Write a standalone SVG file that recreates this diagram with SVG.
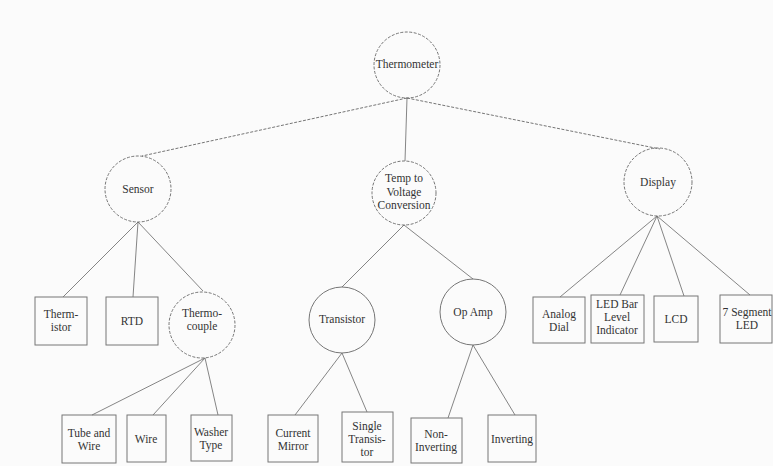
<svg xmlns="http://www.w3.org/2000/svg" width="773" height="466" viewBox="0 0 773 466">
<style>
.bg{fill:#fbfbfb}
.c{fill:none;stroke:#666;stroke-width:0.9}
.cd{fill:none;stroke:#666;stroke-width:0.9;stroke-dasharray:3 1.5}
.b{fill:none;stroke:#777;stroke-width:1}
.l{stroke:#777;stroke-width:0.9;fill:none}
.ld{stroke:#666;stroke-width:0.9;fill:none;stroke-dasharray:3 1.5}
.t{font-family:'Liberation Serif','DejaVu Serif',serif;font-size:11.5px;fill:#333;text-anchor:middle}
</style>
<rect class="bg" x="0" y="0" width="773" height="466"/>
<g id="connectors">
<line class="ld" x1="407" y1="98" x2="142" y2="156"/>
<line class="l" x1="407" y1="98" x2="405" y2="161"/>
<line class="ld" x1="407" y1="98" x2="660" y2="149"/>
<line class="l" x1="138" y1="222" x2="63" y2="297"/>
<line class="l" x1="138" y1="222" x2="133" y2="297"/>
<line class="l" x1="138" y1="222" x2="203" y2="291"/>
<line class="l" x1="404" y1="225" x2="342" y2="287"/>
<line class="l" x1="404" y1="225" x2="473" y2="279"/>
<line class="l" x1="657" y1="216" x2="560" y2="297"/>
<line class="l" x1="657" y1="216" x2="620" y2="295"/>
<line class="l" x1="657" y1="216" x2="684" y2="296"/>
<line class="l" x1="657" y1="216" x2="750" y2="295"/>
<line class="l" x1="205" y1="358" x2="92" y2="415"/>
<line class="l" x1="205" y1="358" x2="153" y2="415"/>
<line class="l" x1="205" y1="358" x2="218" y2="415"/>
<line class="l" x1="342" y1="353" x2="295" y2="415"/>
<line class="l" x1="342" y1="353" x2="367" y2="412"/>
<line class="l" x1="473" y1="345" x2="448" y2="418"/>
<line class="l" x1="473" y1="345" x2="515" y2="415"/>
</g>
<g class="t" font-family="Liberation Serif, DejaVu Serif, serif">
<g id="thermometer"><circle class="cd" cx="407" cy="65" r="33"/><text x="407" y="68">Thermometer</text></g>
<g id="sensor"><circle class="cd" cx="138" cy="189" r="33"/><text x="138" y="193">Sensor</text></g>
<g id="temp-voltage"><circle class="cd" cx="404" cy="193" r="32"/><text x="404" y="182">Temp to</text><text x="404" y="196">Voltage</text><text x="404" y="209">Conversion</text></g>
<g id="display"><circle class="cd" cx="658" cy="182" r="34"/><text x="658" y="186">Display</text></g>
<g id="thermistor"><rect class="b" x="35" y="297" width="52" height="48"/><text x="61" y="318">Therm-</text><text x="61" y="331">istor</text></g>
<g id="rtd"><rect class="b" x="106" y="297" width="52" height="48"/><text x="132" y="325">RTD</text></g>
<g id="thermocouple"><circle class="cd" cx="202" cy="325" r="33"/><text x="202" y="317">Thermo-</text><text x="202" y="330">couple</text></g>
<g id="transistor"><circle class="c" cx="342" cy="320" r="33"/><text x="342" y="323">Transistor</text></g>
<g id="opamp"><circle class="c" cx="473" cy="312" r="33"/><text x="473" y="316">Op Amp</text></g>
<g id="analog-dial"><rect class="b" x="533" y="297" width="52" height="46"/><text x="559" y="318">Analog</text><text x="559" y="331">Dial</text></g>
<g id="led-bar"><rect class="b" x="591" y="295" width="53" height="48"/><text x="617" y="308">LED Bar</text><text x="617" y="321">Level</text><text x="617" y="334">Indicator</text></g>
<g id="lcd"><rect class="b" x="654" y="296" width="44" height="46"/><text x="676" y="323">LCD</text></g>
<g id="seven-seg"><rect class="b" x="720" y="295" width="52" height="48"/><text x="747" y="316">7 Segment</text><text x="747" y="329">LED</text></g>
<g id="tube-wire"><rect class="b" x="62" y="415" width="54" height="48"/><text x="89" y="437">Tube and</text><text x="89" y="450">Wire</text></g>
<g id="wire"><rect class="b" x="127" y="415" width="39" height="47"/><text x="146" y="443">Wire</text></g>
<g id="washer"><rect class="b" x="191" y="415" width="41" height="46"/><text x="211" y="436">Washer</text><text x="211" y="449">Type</text></g>
<g id="current-mirror"><rect class="b" x="268" y="415" width="50" height="47"/><text x="293" y="437">Current</text><text x="293" y="450">Mirror</text></g>
<g id="single-transistor"><rect class="b" x="342" y="412" width="51" height="50"/><text x="367" y="430">Single</text><text x="367" y="443">Transis-</text><text x="367" y="456">tor</text></g>
<g id="non-inverting"><rect class="b" x="411" y="418" width="51" height="45"/><text x="436" y="438">Non-</text><text x="436" y="451">Inverting</text></g>
<g id="inverting"><rect class="b" x="488" y="415" width="48" height="47"/><text x="512" y="443">Inverting</text></g>
</g>
</svg>
